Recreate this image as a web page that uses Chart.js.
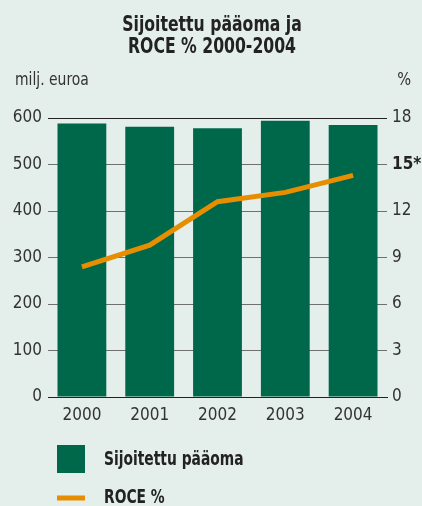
<!DOCTYPE html>
<html>
<head>
<meta charset="utf-8">
<script src="https://cdn.jsdelivr.net/npm/chart.js@4"></script>
<style>
  html, body { margin: 0; padding: 0; background: #e4eeea; }
  #wrap { width: 422px; height: 506px; position: relative; }
</style>
</head>
<body>
<div id="wrap"><canvas id="chart" width="422" height="506"></canvas></div>
<script>
const years      = ['2000', '2001', '2002', '2003', '2004'];
const capital    = [588, 581, 578, 594, 585];   // milj. euroa
const roce       = [8.4, 9.8, 12.6, 13.2, 14.3]; // %
const leftTicks  = [0, 100, 200, 300, 400, 500, 600];
const rightTicks = [0, 3, 6, 9, 12, 15, 18];
const starTick   = 15;

const FONT    = "'Liberation Sans Narrow', 'DejaVu Sans Condensed', sans-serif";
const GREEN   = '#00684a';
const ORANGE  = '#e68e00';
const INK     = '#222';

// draw text squeezed horizontally, the fonts we have are wider than the print face
function narrowText(ctx, text, x, y, squeeze) {
    ctx.save();
    ctx.translate(x, y);
    ctx.scale(squeeze, 1);
    ctx.fillText(text, 0, 0);
    ctx.restore();
}

// title, unit captions and the legend block under the axis
const decorations = {
    id: 'decorations',
    afterDraw(chart) {
        const ctx = chart.ctx;
        ctx.save();
        ctx.fillStyle = INK;
        ctx.textAlign = 'center';
        ctx.textBaseline = 'alphabetic';
        ctx.font = 'bold 21px ' + FONT;
        narrowText(ctx, 'Sijoitettu pääoma ja', 212, 31, 0.83);
        narrowText(ctx, 'ROCE % 2000-2004', 212, 53, 0.83);

        ctx.font = '18px ' + FONT;
        ctx.fillStyle = '#333';
        ctx.textAlign = 'left';
        narrowText(ctx, 'milj. euroa', 15, 85, 0.86);
        ctx.textAlign = 'right';
        narrowText(ctx, '%', 411, 85, 0.9);

        const [bars, line] = chart.data.datasets;
        ctx.fillStyle = bars.backgroundColor;
        ctx.fillRect(57, 445, 28, 28);
        ctx.strokeStyle = line.borderColor;
        ctx.lineWidth = 5;
        ctx.beginPath();
        ctx.moveTo(57, 498);
        ctx.lineTo(85, 498);
        ctx.stroke();

        ctx.fillStyle = INK;
        ctx.textAlign = 'left';
        ctx.textBaseline = 'middle';
        ctx.font = 'bold 19px ' + FONT;
        narrowText(ctx, bars.label, 104, 460, 0.81);
        narrowText(ctx, line.label, 104, 498, 0.81);
        ctx.restore();
    }
};

new Chart(document.getElementById('chart'), {
    data: {
        labels: years,
        datasets: [
            {
                type: 'bar',
                label: 'Sijoitettu pääoma',
                data: capital,
                backgroundColor: GREEN,
                barPercentage: 0.72,
                categoryPercentage: 1,
                yAxisID: 'y',
                order: 2,
            },
            {
                type: 'line',
                label: 'ROCE %',
                data: roce,
                borderColor: ORANGE,
                borderWidth: 5,
                pointRadius: 0,
                tension: 0,
                yAxisID: 'y1',
                order: 1,
            }
        ]
    },
    options: {
        responsive: false,
        animation: false,
        layout: { padding: { top: 118, bottom: 79, left: 0, right: 0 } },
        plugins: {
            legend: { display: false },
            tooltip: { enabled: false },
        },
        scales: {
            x: {
                grid: { display: false },
                border: { display: true, color: INK, width: 1 },
                ticks: { color: '#333', padding: 0, font: { family: FONT, size: 17 } },
                afterFit: s => { s.height = 30; },
            },
            y: {
                position: 'left',
                min: 0, max: 600,
                afterBuildTicks: s => { s.ticks = leftTicks.map(v => ({ value: v })); },
                grid: {
                    drawTicks: false,
                    color: c => (c.tick && (c.tick.value === 600 || c.tick.value === 0)) ? INK : '#707070',
                    lineWidth: 1,
                },
                border: { display: false },
                ticks: { color: '#333', padding: 6, font: { family: FONT, size: 17 } },
                afterFit: s => { s.width = 48; },
            },
            y1: {
                position: 'right',
                min: 0, max: 18,
                afterBuildTicks: s => { s.ticks = rightTicks.map(v => ({ value: v })); },
                grid: { display: false, drawTicks: false },
                border: { display: false },
                ticks: {
                    color: c => c.tick && c.tick.value === starTick ? INK : '#333',
                    padding: 5,
                    font: c => ({
                        family: FONT, size: 17,
                        weight: c.tick && c.tick.value === starTick ? 'bold' : 'normal'
                    }),
                    callback: v => v === starTick ? v + '*' : v,
                },
                afterFit: s => { s.width = 35; },
            }
        }
    },
    plugins: [decorations]
});
</script>
</body>
</html>
